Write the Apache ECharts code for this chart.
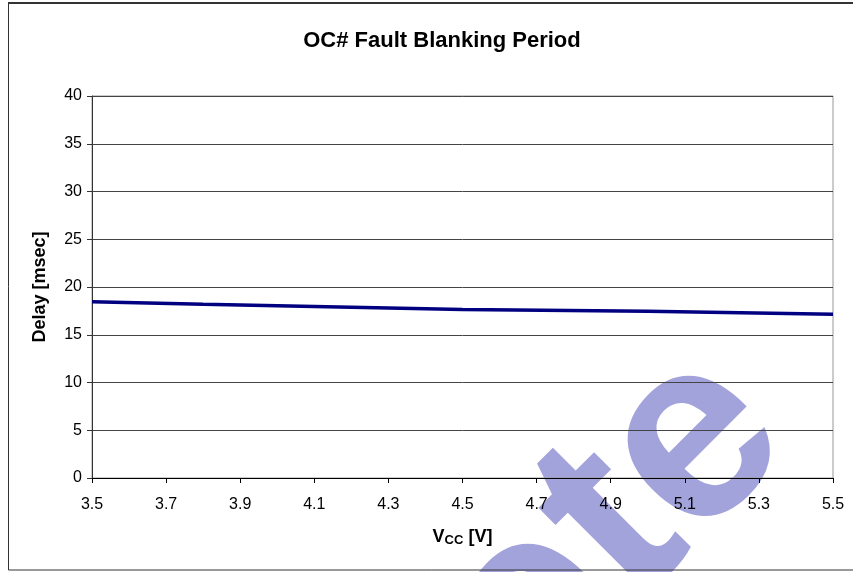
<!DOCTYPE html>
<html>
<head>
<meta charset="utf-8">
<script src="https://cdn.jsdelivr.net/npm/echarts@6/dist/echarts.min.js"></script>
<style>
    html, body { margin: 0; padding: 0; background: #fff; }
    #chart { width: 853px; height: 572px; }
</style>
</head>
<body>
<div id="chart"></div>
<script>
// 数据
var vccValues = [3.5, 3.8, 4.5, 5.0, 5.5];
var delayValues = [18.45, 18.2, 17.65, 17.45, 17.15];
var yTicks = [0, 5, 10, 15, 20, 25, 30, 35, 40];
var chartTitle = 'OC# Fault Blanking Period';
var watermarkHead = 'Obsole';
var watermarkTail = 'te';

var fontName = '"Liberation Sans", Arial, sans-serif';
var watermarkFont = 'bold 260px "Liberation Sans", Arial, sans-serif';

var chart = echarts.init(document.getElementById('chart'));

var seriesData = [];
for (var i = 0; i < vccValues.length; i++) {
    seriesData.push([vccValues[i], delayValues[i]]);
}

// 水印文字
function watermark(text, x, y) {
    return {
        type: 'text',
        z: -10,
        rotation: Math.PI / 4,
        x: x,
        y: y,
        style: {
            text: text,
            font: watermarkFont,
            fill: '#a3a3dc',
            align: 'right',
            verticalAlign: 'bottom'
        }
    };
}

var option = {
    backgroundColor: '#fff',
    animation: false,
    title: {
        text: chartTitle,
        left: 437,
        top: 25,
        textAlign: 'center',
        textStyle: {
            fontFamily: fontName,
            fontSize: 22,
            fontWeight: 'bold',
            color: '#000'
        }
    },
    graphic: [
        watermark(watermarkTail, 838, 485),
        watermark(watermarkHead, 677, 653),
        {
            type: 'rect',
            z: 100,
            shape: { x: 8.5, y: 3, width: 860, height: 567 },
            style: { fill: 'none', stroke: '#333', lineWidth: 1 }
        },
        {
            type: 'line',
            z: 100,
            shape: { x1: 8, y1: 3, x2: 853, y2: 3 },
            style: { stroke: '#333', lineWidth: 2 }
        }
    ],
    grid: {
        left: 92,
        top: 96,
        right: 20,
        bottom: 94,
        show: true,
        borderColor: '#999',
        borderWidth: 1,
        backgroundColor: 'transparent'
    },
    xAxis: {
        type: 'value',
        min: 3.5,
        max: 5.5,
        interval: 0.2,
        name: '{v|V}{s|CC}{v| [V]}',
        nameLocation: 'middle',
        nameGap: 49,
        nameTextStyle: {
            rich: {
                v: { fontFamily: fontName, fontSize: 18, fontWeight: 'bold', color: '#000' },
                s: { fontFamily: fontName, fontSize: 13, fontWeight: 'bold', color: '#000', padding: [7, 0, 0, 0] }
            }
        },
        axisLine: { show: true, onZero: false, lineStyle: { color: '#000', width: 1 } },
        axisTick: { show: true, inside: false, length: 5, lineStyle: { color: '#000' } },
        splitLine: { show: false },
        axisLabel: {
            margin: 19,
            fontFamily: fontName,
            fontSize: 16,
            color: '#000',
            formatter: function (v) { return v.toFixed(1); }
        }
    },
    yAxis: {
        type: 'value',
        min: yTicks[0],
        max: yTicks[yTicks.length - 1],
        interval: yTicks[1] - yTicks[0],
        name: 'Delay [msec]',
        nameLocation: 'middle',
        nameGap: 43,
        nameTextStyle: {
            fontFamily: fontName,
            fontSize: 18,
            fontWeight: 'bold',
            color: '#000'
        },
        axisLine: { show: true, lineStyle: { color: '#333', width: 1 } },
        axisTick: { show: true, inside: false, length: 5, lineStyle: { color: '#333' } },
        splitLine: { show: true, lineStyle: { color: '#444', width: 1 } },
        axisLabel: {
            margin: 10,
            fontFamily: fontName,
            fontSize: 16,
            color: '#000'
        }
    },
    series: [
        {
            name: 'Delay',
            type: 'line',
            data: seriesData,
            showSymbol: false,
            symbol: 'none',
            lineStyle: { color: '#000080', width: 3.5 }
        }
    ]
};

chart.setOption(option);
</script>
</body>
</html>
